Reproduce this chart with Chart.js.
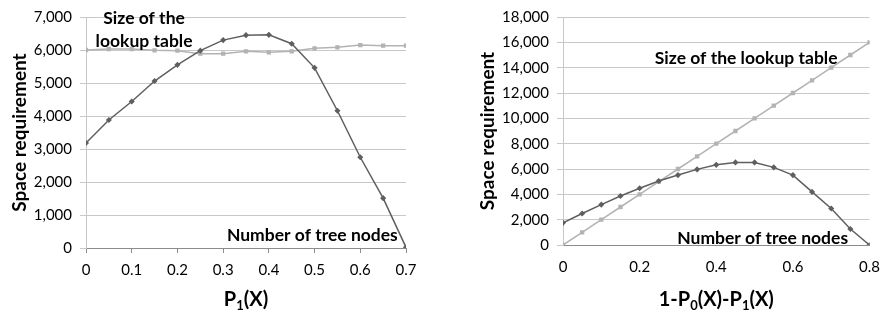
<!DOCTYPE html>
<html>
<head>
<meta charset="utf-8">
<script src="https://cdn.jsdelivr.net/npm/chart.js@4/dist/chart.umd.min.js"></script>
<style>
  body { margin: 0; background: #fff; }
  .box { position: absolute; top: 0; height: 316px; }
  #leftBox { left: 0; width: 440px; }
  #rightBox { left: 440px; width: 448px; }
</style>
</head>
<body>
<div class="box" id="leftBox"><canvas id="leftChart"></canvas></div>
<div class="box" id="rightBox"><canvas id="rightChart"></canvas></div>
<script>
'use strict';
// left chart: x = P1(X)
const leftX = [0, 0.05, 0.1, 0.15, 0.2, 0.25, 0.3, 0.35, 0.4, 0.45, 0.5, 0.55, 0.6, 0.65, 0.7];
const leftNodes = [3180, 3880, 4440, 5060, 5550, 5980, 6300, 6450, 6460, 6190, 5460, 4160, 2750, 1510, 20];
const leftTable = [6000, 6030, 6030, 5990, 5980, 5890, 5890, 5960, 5930, 5960, 6050, 6080, 6150, 6130, 6130];

// right chart: x = 1-P0(X)-P1(X)
const rightX = [0, 0.05, 0.1, 0.15, 0.2, 0.25, 0.3, 0.35, 0.4, 0.45, 0.5, 0.55, 0.6, 0.65, 0.7, 0.75, 0.8];
const rightNodes = [1750, 2490, 3190, 3870, 4480, 5050, 5520, 5970, 6330, 6520, 6520, 6130, 5520, 4190, 2880, 1260, 0];
const rightTable = [0, 1000, 2000, 3000, 4000, 5000, 6000, 7000, 8000, 9000, 10000, 11000, 12000, 13000, 14000, 15000, 16000];

const nodeColor = '#5f5f5f';
const tableColor = '#b3b3b3';
const fontFam = 'Lato, "Open Sans", sans-serif';

function pts(xs, ys) {
  return xs.map((x, i) => ({ x: x, y: ys[i] }));
}

// draws the series labels and the x title (with subscripts)
const textPlugin = {
  id: 'texts',
  afterDraw(chart, args, opts) {
    const ctx = chart.ctx;
    const xs = chart.scales.x, ys = chart.scales.y;
    ctx.save();
    ctx.fillStyle = '#000';
    ctx.textBaseline = 'middle';
    ctx.font = 'bold 17.5px ' + fontFam;
    opts.notes.forEach(n => {
      ctx.textAlign = n.align;
      ctx.fillText(n.text, xs.getPixelForValue(n.x), ys.getPixelForValue(n.y));
    });
    // x title made of runs, some are subscripts
    const runs = opts.title;
    let total = 0;
    runs.forEach(r => {
      ctx.font = 'bold ' + (r.sub ? 13 : 20) + 'px ' + fontFam;
      total += ctx.measureText(r.t).width;
    });
    let px = (chart.chartArea.left + chart.chartArea.right) / 2 - total / 2;
    const py = opts.titleY;
    ctx.textAlign = 'left';
    runs.forEach(r => {
      ctx.font = 'bold ' + (r.sub ? 13 : 20) + 'px ' + fontFam;
      ctx.fillText(r.t, px, r.sub ? py + 6 : py);
      px += ctx.measureText(r.t).width;
    });
    ctx.restore();
  }
};

function makeChart(id, xs, nodes, table, xMax, xStep, yMax, yStep, yWidth, titlePad, xHeight, padRight, tickMarks, notes, title) {
  const ctx = document.getElementById(id).getContext('2d');
  return new Chart(ctx, {
    type: 'line',
    data: {
      datasets: [{
        label: 'Number of tree nodes',
        data: pts(xs, nodes),
        borderColor: nodeColor,
        backgroundColor: nodeColor,
        borderWidth: 1.5,
        pointStyle: 'rectRot',
        pointRadius: 2,
        tension: 0
      }, {
        label: 'Size of the lookup table',
        data: pts(xs, table),
        borderColor: tableColor,
        backgroundColor: tableColor,
        borderWidth: 1.5,
        pointStyle: 'rect',
        pointRadius: 2,
        tension: 0
      }]
    },
    options: {
      responsive: true,
      maintainAspectRatio: false,
      animation: false,
      layout: { padding: { top: 15, right: padRight, left: 0, bottom: 0 } },
      plugins: {
        legend: { display: false },
        tooltip: { enabled: false },
        texts: { notes: notes, title: title, titleY: 300 }
      },
      scales: {
        x: {
          type: 'linear',
          min: 0,
          max: xMax,
          afterFit(s) { s.height = xHeight; },
          ticks: {
            stepSize: xStep,
            color: '#000',
            font: { family: fontFam, size: 15 },
            padding: 8,
            maxRotation: 0
          },
          grid: {
            drawOnChartArea: false,
            drawTicks: true,
            tickLength: 5,
            tickColor: tickMarks ? '#8c8c8c' : 'rgba(0,0,0,0)',
            color: '#8c8c8c'
          },
          border: { color: '#8c8c8c', width: 1 }
        },
        y: {
          min: 0,
          max: yMax,
          afterFit(s) { s.width = yWidth; },
          ticks: {
            stepSize: yStep,
            color: '#000',
            font: { family: fontFam, size: 15 },
            padding: 8,
            callback: v => v.toLocaleString('en-US')
          },
          grid: { color: '#c8c8c8', drawTicks: true, tickLength: 6, tickColor: '#c8c8c8' },
          border: { color: '#c8c8c8' },
          title: {
            display: true,
            text: 'Space requirement',
            color: '#000',
            font: { family: fontFam, size: 19, weight: 'bold' },
            padding: { top: titlePad, bottom: 4 }
          }
        }
      }
    },
    plugins: [textPlugin]
  });
}

makeChart('leftChart', leftX, leftNodes, leftTable, 0.7, 0.1, 7000, 1000, 86, 8, 68, 34, true,
  [
    { text: 'Size of the', x: 0.127, y: 6950, align: 'center' },
    { text: 'lookup table', x: 0.127, y: 6260, align: 'center' },
    { text: 'Number of tree nodes', x: 0.682, y: 380, align: 'right' }
  ],
  [{ t: 'P' }, { t: '1', sub: true }, { t: '(X)' }]);

makeChart('rightChart', rightX, rightNodes, rightTable, 0.8, 0.2, 18000, 2000, 123, 36, 71, 12, false,
  [
    { text: 'Size of the lookup table', x: 0.478, y: 14760, align: 'center' },
    { text: 'Number of tree nodes', x: 0.521, y: 490, align: 'center' }
  ],
  [{ t: '1-P' }, { t: '0', sub: true }, { t: '(X)-P' }, { t: '1', sub: true }, { t: '(X)' }]);
</script>
</body>
</html>
